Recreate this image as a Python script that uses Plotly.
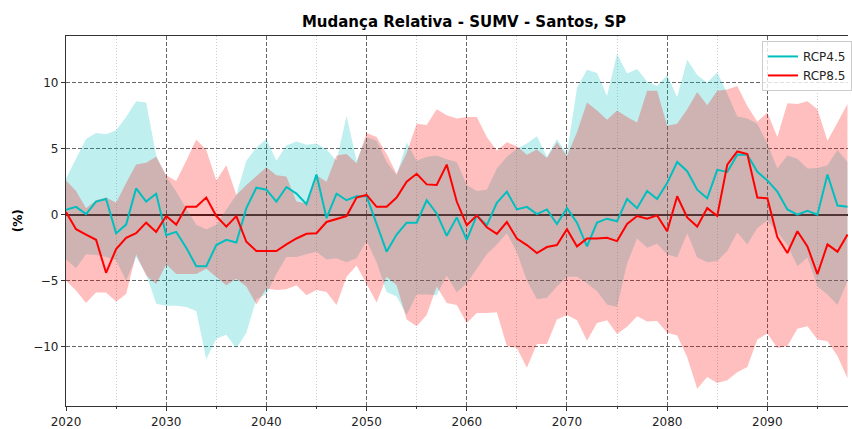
import plotly.graph_objects as go

years = list(range(2020, 2099))

# RCP4.5 ensemble: mean change and spread (%)
rcp45_mean = [
    0.375, 0.6, 0.05, 1.0, 1.2, -1.4, -0.75, 2.0, 1.0, 1.6,
    -1.55, -1.3, -2.5, -3.9, -3.9, -2.3, -1.9, -2.1, 0.5, 2.05,
    1.9, 1.0, 2.1, 1.6, 0.8, 3.05, -0.25, 1.6, 1.1, 1.4,
    1.4, -0.75, -2.8, -1.5, -0.6, -0.6, 1.1, 0.1, -1.6, -0.2,
    -1.9, -0.05, -0.8, 0.9, 1.75, 0.4, 0.6, 0.05, 0.4, -0.7,
    0.5, -0.6, -2.4, -0.6, -0.3, -0.5, 1.2, 0.5, 1.8, 1.2,
    2.4, 4.0, 3.3, 1.9, 1.25, 3.4, 3.25, 4.55, 4.55, 3.25,
    2.6, 1.75, 0.4, 0.0, 0.3, 0.0, 3.05, 0.7, 0.6,
]
rcp45_upper = [
    2.75, 4.25, 5.75, 6.2, 6.1, 6.4, 7.4, 8.6, 8.5, 4.5,
    2.9, 1.75, 0.5, -0.75, -1.1, -0.75, 0.4, 1.5, 4.1, 5.1,
    5.75, 4.1, 5.25, 5.55, 5.3, 5.4, 4.95, 4.1, 7.5, 4.1,
    5.9, 5.6, 4.0, 3.0, 5.5, 4.1, 4.4, 4.5, 4.2, 4.0,
    2.25, 1.8, 1.9, 3.5, 4.4, 5.0, 5.4, 5.95, 4.4, 5.75,
    4.6, 9.6, 11.0, 10.75, 9.0, 12.2, 10.7, 11.05, 10.1, 9.75,
    10.6, 8.9, 11.75, 10.6, 10.0, 10.8, 9.2, 7.45, 7.3, 6.9,
    5.4, 3.5, 4.5, 4.25, 3.5, 3.55, 3.75, 4.9, 4.0,
]
rcp45_lower = [
    -3.4, -4.05, -3.0, -3.05, -3.2, -3.45, -5.0, -3.2, -4.5, -6.75,
    -6.9, -6.9, -7.0, -7.3, -10.95, -9.4, -9.1, -10.15, -8.95, -6.4,
    -6.0, -4.5, -3.2, -3.2, -3.0, -2.8, -3.4, -3.3, -3.6, -3.3,
    -2.0, -3.6, -5.85, -6.2, -7.6, -6.05, -6.05, -6.1, -4.6, -5.9,
    -5.2, -4.1, -3.0, -2.25, -1.4, -2.85, -5.0, -6.4, -6.3, -5.45,
    -4.7, -4.7, -5.2, -5.8, -6.8, -7.0, -3.7, -1.8, -2.5, -2.2,
    -3.0, -3.25, -1.4, -3.25, -3.6, -3.5, -2.75, -1.35, -2.25, -1.0,
    -0.45, -1.3, -2.3, -3.9, -3.25, -5.45, -6.05, -6.85, -5.0,
]

# RCP8.5 ensemble: mean change and spread (%)
rcp85_mean = [
    0.2, -1.1, -1.5, -1.9, -4.4, -2.6, -1.75, -1.4, -0.6, -1.3,
    -0.1, -0.75, 0.6, 0.6, 1.3, -0.1, -0.9, -0.1, -2.05, -2.75,
    -2.75, -2.75, -2.25, -1.8, -1.45, -1.4, -0.55, -0.3, -0.1, 1.3,
    1.5, 0.6, 0.6, 1.3, 2.5, 3.1, 2.3, 2.25, 3.8, 1.0,
    -0.8, -0.05, -0.95, -1.45, -0.55, -1.8, -2.3, -2.9, -2.45, -2.3,
    -1.1, -2.4, -1.8, -1.8, -1.75, -2.0, -0.7, -0.1, -0.3, -0.05,
    -1.25, 1.4, -0.2, -0.9, 0.5, -0.1, 3.8, 4.8, 4.6, 1.3,
    1.25, -1.7, -2.9, -1.25, -2.4, -4.5, -2.25, -2.8, -1.5,
]
rcp85_upper = [
    2.6, 1.8, 0.5, 1.1, 1.3, 0.9, 2.4, 3.8, 3.95, 4.4,
    3.0, 2.55, 4.1, 5.7, 4.9, 2.6, 3.75, 1.5, 2.25, 2.9,
    3.6, 3.0, 2.9, 1.0, 0.85, 3.0, 2.5, 4.5, 4.6, 3.9,
    6.2, 5.9, 4.6, 3.1, 4.7, 6.9, 6.8, 8.0, 7.55, 7.3,
    7.4, 7.4, 5.9, 4.85, 5.5, 5.2, 4.55, 4.95, 4.3, 5.5,
    4.45, 6.25, 8.5, 7.9, 7.2, 7.9, 7.4, 7.0, 9.4, 9.4,
    6.75, 6.9, 8.0, 9.3, 8.3, 9.4, 9.5, 9.75, 8.25, 7.05,
    7.75, 5.9, 8.45, 8.4, 8.6, 8.0, 5.6, 7.0, 8.4,
]
rcp85_lower = [
    -5.0, -5.75, -6.7, -5.9, -5.9, -6.6, -6.0, -3.0, -4.6, -5.25,
    -3.75, -4.5, -4.5, -4.5, -4.1, -4.7, -5.35, -4.85, -5.45, -6.8,
    -5.6, -5.7, -5.65, -5.35, -6.1, -5.7, -5.85, -6.85, -4.7, -3.85,
    -5.2, -6.65, -4.7, -5.35, -7.95, -8.45, -7.6, -5.45, -6.7, -6.85,
    -8.2, -7.45, -7.45, -7.4, -9.95, -10.1, -11.6, -9.8, -9.8, -7.95,
    -7.6, -8.0, -9.55, -8.2, -8.0, -9.05, -8.5, -7.7, -8.1, -8.05,
    -8.95, -9.15, -10.8, -13.2, -12.3, -12.75, -12.55, -11.95, -11.55, -9.45,
    -9.0, -10.1, -9.95, -8.65, -8.45, -9.45, -9.6, -10.7, -12.4,
]

x_ticks = [2020, 2030, 2040, 2050, 2060, 2070, 2080, 2090]
y_ticks = [-10, -5, 0, 5, 10]
y_tick_text = ["\u221210", "\u22125", "0", "5", "10"]

CYAN = "#00bfbf"
RED = "#ff0000"
FONT = "DejaVu Sans"

W, H = 852, 429
L, R, T, B = 66, 0, 36, 19

fig = go.Figure()


def add_band(upper, lower, rgba):
    fig.add_trace(go.Scatter(x=years, y=upper, mode="lines", line=dict(width=0),
                             hoverinfo="skip", showlegend=False))
    fig.add_trace(go.Scatter(x=years, y=lower, mode="lines", line=dict(width=0),
                             fill="tonexty", fillcolor=rgba,
                             hoverinfo="skip", showlegend=False))


add_band(rcp45_upper, rcp45_lower, "rgba(0,191,191,0.25)")
add_band(rcp85_upper, rcp85_lower, "rgba(255,0,0,0.25)")

fig.add_trace(go.Scatter(x=years, y=rcp45_mean, mode="lines", name="RCP4.5",
                         line=dict(color=CYAN, width=2)))
fig.add_trace(go.Scatter(x=years, y=rcp85_mean, mode="lines", name="RCP8.5",
                         line=dict(color=RED, width=2)))

fig.update_layout(
    width=W, height=H,
    margin=dict(l=L, r=R, t=T, b=B, pad=0),
    paper_bgcolor="white", plot_bgcolor="white",
    font=dict(family=FONT, size=12, color="#222"),
    title=dict(text="<b>Mudança Relativa - SUMV - Santos, SP</b>",
               x=464 / W, xref="container", xanchor="center",
               y=1 - 22 / H, yref="container", yanchor="middle",
               font=dict(family=FONT, size=15, color="black")),
    showlegend=True,
    legend=dict(x=(766 - L) / (W - L - R), y=1 - (41 - T) / (H - T - B),
                xanchor="left", yanchor="top", traceorder="normal",
                bgcolor="rgba(255,255,255,0.8)", bordercolor="#cccccc",
                borderwidth=1, font=dict(family=FONT, size=12, color="#222"),
                itemwidth=30, tracegroupgap=0),
    annotations=[dict(text="<b>(%)</b>", xref="paper", yref="paper",
                      x=-(L - 18) / (W - L - R), y=0.5, xanchor="center",
                      yanchor="middle", textangle=-90, showarrow=False,
                      font=dict(family=FONT, size=12, color="black"))],
)

fig.update_xaxes(
    range=[2020, 2098.05], tickvals=x_ticks, ticktext=[str(v) for v in x_ticks],
    showline=True, linecolor="#333", linewidth=1.2, mirror=True,
    ticks="outside", ticklen=4, tickcolor="#333",
    showgrid=True, gridcolor="#666", griddash="4px,2px", gridwidth=1,
    minor=dict(dtick=5, tick0=2020, showgrid=True, gridcolor="#cccccc",
               griddash="1px,2px", ticks="outside", ticklen=2, tickcolor="#333"),
    zeroline=False, tickfont=dict(family=FONT, size=12, color="#222"),
)
fig.update_yaxes(
    range=[-14.5, 13.55], tickvals=y_ticks, ticktext=y_tick_text,
    showline=True, linecolor="#333", linewidth=1.2,
    ticks="outside", ticklen=4, tickcolor="#333",
    showgrid=True, gridcolor="#666", griddash="4px,2px", gridwidth=1,
    zeroline=True, zerolinecolor="#222", zerolinewidth=1.5,
    tickfont=dict(family=FONT, size=12, color="#222"),
)

fig.write_html("out.html")
